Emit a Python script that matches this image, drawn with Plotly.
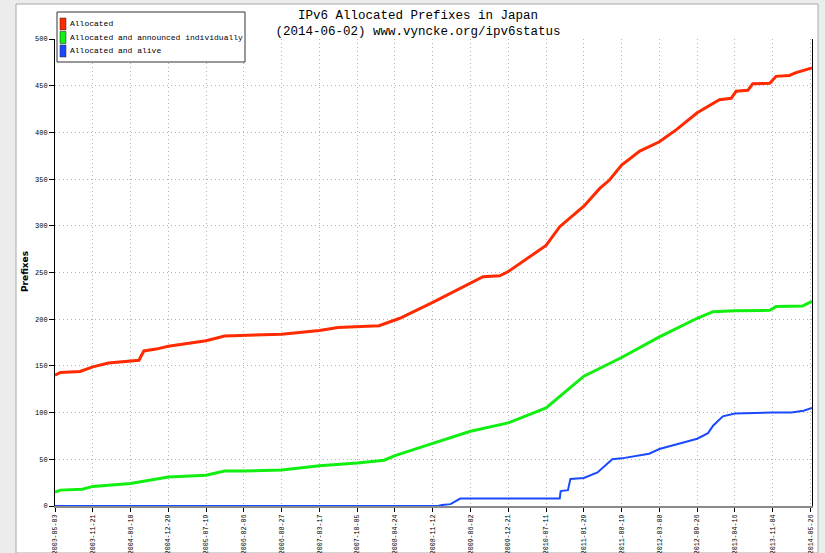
import plotly.graph_objects as go

# ---------------- data ----------------
series_names = ["Allocated", "Allocated and announced individually", "Allocated and alive"]

alloc_dates = ["2003-05-03", "2003-06-01", "2003-09-14", "2003-10-27", "2003-11-21", "2004-02-13",
               "2004-06-10", "2004-07-25", "2004-08-20", "2004-10-25", "2004-12-29", "2005-07-19",
               "2005-10-26", "2006-02-06", "2006-08-27", "2007-03-17", "2007-06-24", "2008-01-30",
               "2008-03-23", "2008-04-24", "2008-05-20", "2008-11-12", "2009-06-02", "2009-08-08",
               "2009-11-05", "2009-12-21", "2010-07-11", "2010-09-22", "2011-01-29", "2011-04-24",
               "2011-06-15", "2011-08-19", "2011-11-24", "2012-03-08", "2012-06-07", "2012-09-26",
               "2013-01-23", "2013-03-27", "2013-04-22", "2013-06-24", "2013-07-20", "2013-10-19",
               "2013-11-22", "2014-02-01", "2014-03-09", "2014-05-26", "2014-06-02"]
alloc_vals = [140, 143, 144, 147, 149, 153,
              155, 156, 166, 168, 171, 177,
              182, 182.5, 184, 188, 191, 193,
              197, 199, 201, 218, 238, 245.5,
              246.5, 251, 279, 299, 321, 340,
              349, 365, 380, 390, 403, 421,
              435, 436.5, 444, 445, 452, 452.5,
              460, 461, 464, 468, 469]

announced_dates = ["2003-05-03", "2003-06-01", "2003-09-27", "2003-11-21", "2004-06-10", "2004-09-15",
                   "2004-12-29", "2005-07-19", "2005-10-26", "2006-02-06", "2006-08-27", "2007-03-17",
                   "2007-10-05", "2008-02-26", "2008-04-24", "2008-11-12", "2009-06-02", "2009-12-21",
                   "2010-07-11", "2011-01-29", "2011-08-19", "2012-03-08", "2012-09-26", "2012-12-20",
                   "2013-04-16", "2013-10-19", "2013-11-22", "2014-04-12", "2014-06-02"]
announced_vals = [15, 17, 18, 21, 24, 27,
                  31, 33, 37.5, 37.5, 38.6, 43,
                  46, 49, 54, 67, 80, 89,
                  105, 139, 159, 181, 201, 208,
                  209, 209.5, 213.5, 214, 219]

alive_dates = ["2003-05-03", "2008-12-10", "2008-12-31", "2009-02-15", "2009-04-08", "2010-09-22",
               "2010-09-27", "2010-11-05", "2010-11-18", "2011-01-29", "2011-04-12", "2011-06-30",
               "2011-08-19", "2012-01-13", "2012-03-08", "2012-06-19", "2012-09-26", "2012-11-23",
               "2012-12-20", "2013-02-10", "2013-04-16", "2013-11-04", "2014-02-11", "2014-04-18",
               "2014-06-02"]
alive_vals = [0, 0, 1, 2, 8, 8,
              16, 17, 29, 30, 36, 50,
              51, 56, 61, 67, 72, 78,
              86, 96, 99, 100, 100, 102,
              105]

tick_dates = ["2003-05-03", "2003-11-21", "2004-06-10", "2004-12-29", "2005-07-19", "2006-02-06",
              "2006-08-27", "2007-03-17", "2007-10-05", "2008-04-24", "2008-11-12", "2009-06-02",
              "2009-12-21", "2010-07-11", "2011-01-29", "2011-08-19", "2012-03-08", "2012-09-26",
              "2013-04-16", "2013-11-04", "2014-05-26"]
x_range = ["2003-05-03", "2014-06-02"]
y_ticks = [0, 50, 100, 150, 200, 250, 300, 350, 400, 450, 500]

colors = ["#ff2a00", "#11ee11", "#1a4aff"]
widths = [3, 3, 2]

# ---------------- figure ----------------
W, H = 825, 553
ML, MR, MT, MB = 55, 13, 39, 47
PW, PH = W - ML - MR, H - MT - MB


def px(x):
    return (x - ML) / PW


def py(y):
    return (H - MB - y) / PH


fig = go.Figure()
for name, xs, ys, c, w in zip(series_names,
                              [alloc_dates, announced_dates, alive_dates],
                              [alloc_vals, announced_vals, alive_vals],
                              colors, widths):
    fig.add_trace(go.Scatter(x=xs, y=ys, mode="lines", name=name,
                             line=dict(color=c, width=w), showlegend=False,
                             cliponaxis=False))

mono = "Liberation Mono"

shapes = [
    # chart image frame on the page
    dict(type="rect", xref="paper", yref="paper", x0=px(16), x1=px(818), y0=py(553), y1=py(4),
         fillcolor="white", line=dict(color="#a8a8a8", width=1), layer="below"),
    # legend box
    dict(type="rect", xref="paper", yref="paper", x0=px(57), x1=px(245), y0=py(62), y1=py(12),
         fillcolor="white", line=dict(color="#333333", width=1)),
]
annotations = []
for i, (name, c) in enumerate(zip(series_names, colors)):
    top = 18 + i * 13.5
    shapes.append(dict(type="rect", xref="paper", yref="paper", x0=px(60), x1=px(66),
                       y0=py(top + 12), y1=py(top), fillcolor=c, line=dict(color="#222222", width=0.5)))
    annotations.append(dict(xref="paper", yref="paper", x=px(68), y=py(top + 6), text=name,
                            showarrow=False, xanchor="left", yanchor="middle",
                            font=dict(family=mono, size=8, color="black")))

# y-axis title
annotations.append(dict(xref="paper", yref="paper", x=px(25), y=py(272), text="<b>Prefixes</b>",
                        textangle=-90, showarrow=False, xanchor="center", yanchor="middle",
                        font=dict(family="DejaVu Sans", size=9, color="black")))

grid_dash = "1px,3px"

fig.update_layout(
    width=W, height=H,
    margin=dict(l=ML, r=MR, t=MT, b=MB, autoexpand=False),
    paper_bgcolor="#ececec",
    plot_bgcolor="white",
    title=dict(text="IPv6 Allocated Prefixes in Japan<br>(2014-06-02) www.vyncke.org/ipv6status",
               x=418 / W, xref="container", xanchor="center",
               y=1 - 19 / H, yref="container", yanchor="top",
               font=dict(family=mono, size=12.5, color="black")),
    shapes=shapes,
    annotations=annotations,
    xaxis=dict(type="date", range=x_range, tickvals=tick_dates, ticktext=tick_dates,
               tickangle=-90, tickfont=dict(family=mono, size=6.6, color="black"),
               showgrid=True, gridcolor="#b4b4b4", griddash=grid_dash, gridwidth=1,
               showline=True, linecolor="#8a8a8a", linewidth=2,
               ticks="outside", ticklen=4, tickcolor="black", automargin=False, zeroline=False),
    yaxis=dict(range=[0, 500], tickvals=y_ticks,
               tickfont=dict(family=mono, size=7, color="black"),
               showgrid=True, gridcolor="#b4b4b4", griddash=grid_dash, gridwidth=1,
               showline=True, linecolor="black", linewidth=1, mirror=True,
               ticks="outside", ticklen=5, tickcolor="black", automargin=False, zeroline=False),
)

fig.write_html("out.html", config={"displayModeBar": False},
               post_script="document.body.style.margin='0';")
